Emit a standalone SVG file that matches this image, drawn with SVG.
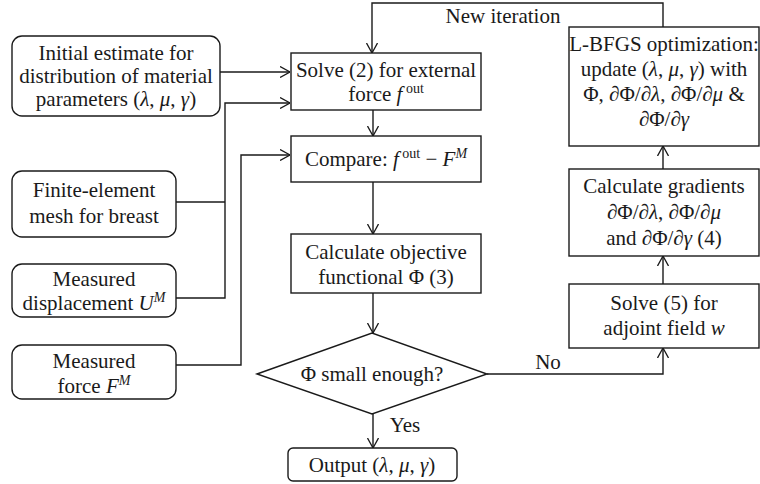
<svg xmlns="http://www.w3.org/2000/svg" width="760" height="484" viewBox="0 0 760 484">
<defs>
<style>
.b{fill:#fff;stroke:#1a1a1a;stroke-width:1.4}
.c{fill:none;stroke:#1a1a1a;stroke-width:1.4}
text{font-family:"Liberation Serif","Times New Roman",serif;font-size:21px;fill:#1a1a1a;text-anchor:middle}
.i{font-style:italic}
.s{font-size:14px}
</style>
<marker id="a" viewBox="0 0 10 12" refX="10" refY="6" markerWidth="10" markerHeight="12" markerUnits="userSpaceOnUse" orient="auto">
<path d="M0,0.5 L10,6 L0,11.5" fill="none" stroke="#1a1a1a" stroke-width="1.3"/>
</marker>
</defs>
<rect width="760" height="484" fill="#fff"/>
<g id="connectors">
<path class="c" d="M220,72 H290" marker-end="url(#a)"/>
<path class="c" d="M176,202 H225"/>
<path class="c" d="M176,298 H225 V103 H290" marker-end="url(#a)"/>
<path class="c" d="M176,365 H241 V155 H290" marker-end="url(#a)"/>
<path class="c" d="M373,110 V136" marker-end="url(#a)"/>
<path class="c" d="M373,182 V234" marker-end="url(#a)"/>
<path class="c" d="M373,293 V333" marker-end="url(#a)"/>
<path class="c" d="M373,414 V448" marker-end="url(#a)"/>
<path class="c" d="M487,374 H663 V348" marker-end="url(#a)"/>
<path class="c" d="M663,284 V256" marker-end="url(#a)"/>
<path class="c" d="M663,169 V146" marker-end="url(#a)"/>
<path class="c" d="M663,27 V3 H372 V53" marker-end="url(#a)"/>
<text x="503" y="23">New iteration</text>
<text x="548" y="369">No</text>
<text x="405" y="432">Yes</text>
</g>
<g id="initial">
<rect class="b" x="12" y="36" width="208" height="80" rx="10"/>
<text x="116" y="60">Initial estimate for</text>
<text x="116" y="83">distribution of material</text>
<text x="116" y="106">parameters (<tspan class="i">λ</tspan>, <tspan class="i">μ</tspan>, <tspan class="i">γ</tspan>)</text>
</g>
<g id="mesh">
<rect class="b" x="12" y="171" width="164" height="66" rx="10"/>
<text x="94" y="197">Finite-element</text>
<text x="94" y="223">mesh for breast</text>
</g>
<g id="displacement">
<rect class="b" x="12" y="264" width="164" height="53" rx="10"/>
<text x="94" y="286">Measured</text>
<text x="94" y="310">displacement <tspan class="i">U</tspan><tspan class="i s" dy="-8">M</tspan></text>
</g>
<g id="force">
<rect class="b" x="12" y="345" width="164" height="54" rx="10"/>
<text x="94" y="368">Measured</text>
<text x="94" y="393">force <tspan class="i">F</tspan><tspan class="i s" dy="-8">M</tspan></text>
</g>
<g id="solve2">
<rect class="b" x="291" y="53" width="190" height="57"/>
<text x="386" y="77">Solve (2) for external</text>
<text x="386" y="101">force <tspan class="i">f</tspan><tspan class="s" dy="-8"> out</tspan></text>
</g>
<g id="compare">
<rect class="b" x="291" y="136" width="190" height="46"/>
<text x="386" y="166">Compare: <tspan class="i">f</tspan><tspan class="s" dy="-8"> out</tspan><tspan dy="8"> − </tspan><tspan class="i">F</tspan><tspan class="i s" dy="-8">M</tspan></text>
</g>
<g id="objective">
<rect class="b" x="291" y="234" width="190" height="59"/>
<text x="386" y="259">Calculate objective</text>
<text x="386" y="284">functional Φ (3)</text>
</g>
<g id="decision">
<polygon class="b" points="257,374 372,333 487,374 372,414"/>
<text x="372" y="381">Φ small enough?</text>
</g>
<g id="output">
<rect class="b" x="288" y="448" width="169" height="33" rx="5"/>
<text x="372" y="472">Output (<tspan class="i">λ</tspan>, <tspan class="i">μ</tspan>, <tspan class="i">γ</tspan>)</text>
</g>
<g id="solve5">
<rect class="b" x="569" y="284" width="190" height="64"/>
<text x="664" y="310">Solve (5) for</text>
<text x="664" y="335">adjoint field <tspan class="i">w</tspan></text>
</g>
<g id="gradients">
<rect class="b" x="569" y="169" width="190" height="87"/>
<text x="664" y="193">Calculate gradients</text>
<text x="664" y="219">∂Φ/∂<tspan class="i">λ</tspan>, ∂Φ/∂<tspan class="i">μ</tspan></text>
<text x="664" y="245">and ∂Φ/∂<tspan class="i">γ</tspan> (4)</text>
</g>
<g id="lbfgs">
<rect class="b" x="569" y="27" width="190" height="119"/>
<text x="664" y="51">L-BFGS optimization:</text>
<text x="664" y="76">update (<tspan class="i">λ</tspan>, <tspan class="i">μ</tspan>, <tspan class="i">γ</tspan>) with</text>
<text x="664" y="101">Φ, ∂Φ/∂<tspan class="i">λ</tspan>, ∂Φ/∂<tspan class="i">μ</tspan> &amp;</text>
<text x="664" y="126">∂Φ/∂<tspan class="i">γ</tspan></text>
</g>
</svg>
